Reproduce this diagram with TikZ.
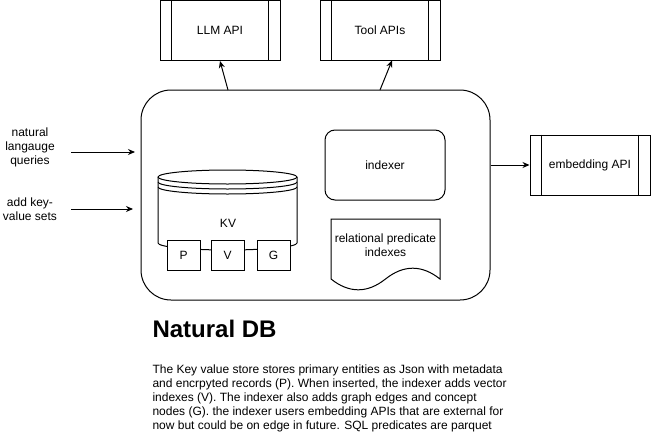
\documentclass[tikz,border=0pt]{standalone}
\usepackage{fontspec}
\setmainfont{Liberation Sans}
\usetikzlibrary{arrows.meta,calc}
\begin{document}
\begin{tikzpicture}[x=1pt,y=-1pt,line width=1pt,
  txt/.style={font=\fontsize{12}{14}\selectfont},
  proc/.style={draw,txt,minimum width=120pt,minimum height=60pt,inner sep=0pt},
  arr/.style={-{Stealth[length=7pt,width=6pt]}},
  lbl/.style={txt,align=center,inner sep=0pt},
  small/.style={draw,fill=white,txt,minimum width=33pt,minimum height=30pt,inner sep=0pt}]
\useasboundingbox (0,0) rectangle (651,434);

% external process boxes
\node[proc] (llm) at (220,30.5) {LLM API};
\node[proc] (tool) at (380,30.5) {Tool APIs};
\node[proc] (emb) at (590,165) {embedding API};
\foreach \n in {llm,tool,emb}{
  \draw ($(\n.north west)+(12,0)$) -- ($(\n.south west)+(12,0)$);
  \draw ($(\n.north east)+(-12,0)$) -- ($(\n.south east)+(-12,0)$);
}

% main container
\node[draw,rounded corners=30pt,minimum width=349pt,minimum height=210pt,inner sep=0pt] (main) at (315.5,195) {};

% indexer
\node[draw,txt,rounded corners=10pt,minimum width=120pt,minimum height=70pt,inner sep=0pt] (idx) at (385,165) {indexer};

% document shape
\draw (331,219) -- (440,219) -- (440,279)
  .. controls (421.83,264.6) and (403.67,264.6) .. (385.5,279)
  .. controls (367.33,293.4) and (349.17,293.4) .. (331,279) -- cycle;
\node[lbl] (rel) at (385.5,245.5) {relational predicate\\indexes};

% cylinder (data store)
\draw (227.5,177) ellipse[x radius=69.5,y radius=7];
\foreach \c in {182,187}{
  \draw (158,\c) .. controls (158,\c+3.866) and (189.12,\c+7) .. (227.5,\c+7)
        .. controls (265.88,\c+7) and (297,\c+3.866) .. (297,\c);
}
\draw (158,177) -- (158,243) .. controls (158,246.866) and (189.12,250) .. (227.5,250)
      .. controls (265.88,250) and (297,246.866) .. (297,243) -- (297,177);
\node[txt] (kv) at (228,223) {KV};
\node[small] (p) at (183.5,255) {P};
\node[small] (v) at (227.5,255) {V};
\node[small] (g) at (273.5,255) {G};

% inputs
\node[lbl] (nlq) at (30,147.5) {natural\\langauge\\queries};
\node[lbl] (akv) at (30,209.5) {add key-\\value sets};
\coordinate (q0) at (71,152);
\coordinate (q1) at (135,152);
\coordinate (k0) at (71,209);
\coordinate (k1) at (133,209);
\draw[arr] (q0) -- (q1);
\draw[arr] (k0) -- (k1);

% outputs
\coordinate (l0) at (228,90);
\coordinate (t0) at (380,90);
\coordinate (t1) at (392,60.5);
\draw[arr] (l0) -- (llm.south);
\draw[arr] (t0) -- (t1);
\draw[arr] (main.east |- emb.west) -- (emb.west);

% title and description
\node[font=\bfseries\fontsize{24}{28}\selectfont,anchor=base west,inner sep=0pt] (title) at (152,337) {Natural DB};
\node[txt,align=left,anchor=base west,inner sep=0pt] (desc) at (152,429.5) {The Key value store stores primary entities as Json with metadata\\
and encrpyted records (P). When inserted, the indexer adds vector\\
indexes (V). The indexer also adds graph edges and concept\\
nodes (G). the indexer users embedding APIs that are external for\\
now but could be on edge in future. SQL predicates are parquet};
\end{tikzpicture}
\end{document}
